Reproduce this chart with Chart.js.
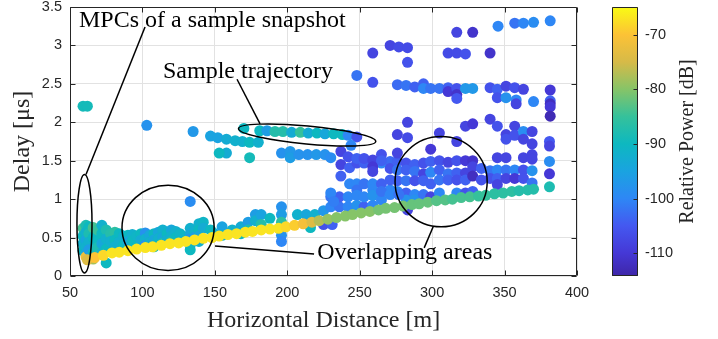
<!DOCTYPE html>
<html><head><meta charset="utf-8">
<script src="https://cdn.jsdelivr.net/npm/chart.js@4/dist/chart.umd.min.js"></script>
<style>
html,body{margin:0;padding:0;background:#fff;}
#wrap{position:relative;width:718px;height:339px;overflow:hidden;}
#main{position:absolute;left:0;top:0;}
#cbar{position:absolute;left:600px;top:0;}
</style></head><body>
<div id="wrap"><canvas id="main" width="718" height="339"></canvas><canvas id="cbar" width="118" height="339"></canvas></div>
<script>
// ---------- tick labels ----------
const xTicks = [50,100,150,200,250,300,350,400];
const yTicks = [0,0.5,1,1.5,2,2.5,3,3.5];
const cbTicks = [-110,-100,-90,-80,-70];
const cbMin = -114.2, cbMax = -64.9;

// ---------- data: distance [m], delay [us], relative power [dB] ----------
const losX = [62,67,73,79,84,90,96,102,107,113,119,125,130,136,142,148,153,159,165,171,176,182,188,194,199,205,211,217,222,228,234,240,245,251,257,263,268,274,280,286,291,297,303,309,314,320,326,332,337,343,349,355,360,366,370,381];
const losY = [0.21,0.24,0.27,0.30,0.31,0.33,0.35,0.37,0.38,0.40,0.42,0.43,0.45,0.47,0.49,0.50,0.52,0.54,0.55,0.57,0.58,0.60,0.61,0.62,0.64,0.66,0.68,0.70,0.72,0.74,0.76,0.78,0.80,0.82,0.84,0.86,0.88,0.89,0.91,0.93,0.94,0.96,0.98,0.99,1.00,1.02,1.03,1.04,1.05,1.07,1.08,1.10,1.11,1.12,1.13,1.16];
const losP = [-74,-70,-68,-67,-67,-67,-67,-67,-67,-67,-67,-67,-67,-67,-67,-67,-67,-67,-67,-67,-67,-67,-67,-67,-68,-69,-71,-74,-77,-79,-80,-80,-80,-80,-80,-81,-81,-81,-81,-82,-82,-82,-83,-83,-84,-84,-84,-85,-85,-86,-86,-86,-87,-87,-87,-88];

const nearX = [59,59,59,59,61,61,61,61,61,61,63,63,63,63,66,66,66,66,69,69,69,72,72,72,72,75,75,75,75,78,78,81,81,81,84,84,87,87,90,90,93,93,96,96,99,99,102,102,102,105,105,108,108,108,111,111,111,114,114,114,117,117,120,120,120,123,123,126,133,133,133,133,133,136,136,139,139,139,139,142,142,147,59,62];
const nearY = [0.62,0.52,0.42,0.33,0.66,0.57,0.47,0.38,0.29,0.25,0.64,0.55,0.44,0.34,0.63,0.50,0.30,0.22,0.60,0.45,0.37,0.66,0.55,0.42,0.30,0.60,0.48,0.35,0.17,0.55,0.45,0.57,0.47,0.38,0.55,0.44,0.52,0.40,0.53,0.45,0.54,0.46,0.52,0.38,0.55,0.47,0.56,0.48,0.40,0.53,0.44,0.55,0.47,0.38,0.57,0.49,0.41,0.60,0.50,0.43,0.55,0.47,0.60,0.52,0.45,0.58,0.50,0.55,0.62,0.55,0.48,0.40,0.34,0.58,0.50,0.68,0.60,0.52,0.45,0.70,0.62,0.60,2.21,2.21];
const nearP = [-84,-90,-92,-90,-88,-92,-94,-92,-94,-72,-90,-88,-92,-96,-84,-90,-90,-78,-85,-90,-88,-92,-90,-94,-92,-88,-92,-90,-90,-87,-92,-86,-90,-92,-90,-92,-92,-90,-90,-94,-92,-90,-91,-90,-90,-93,-98,-92,-98,-94,-92,-90,-94,-86,-94,-92,-90,-92,-94,-88,-90,-92,-94,-92,-87,-92,-90,-91,-92,-94,-98,-94,-90,-92,-96,-92,-90,-94,-92,-91,-93,-90,-89,-89];

const midX = [133,149,155,155,162,168,168,173,173,178,178,182,182,188,196,196,196,196,196,196,207,213,216,219,225,225,231,230,230,236,236,242,242,248,248,253,253,259,259,265,265,271,277,283,230,232];
const midY = [0.97,0.56,0.64,0.53,0.60,0.64,0.55,0.70,0.60,0.80,0.72,0.80,0.67,0.75,0.90,0.80,0.70,0.60,0.53,0.45,0.80,0.80,0.63,0.80,0.85,0.67,0.67,0.90,1.03,0.90,1.03,0.90,1.03,0.92,1.05,0.90,1.03,0.92,1.05,0.99,1.10,1.06,1.06,0.86,1.08,0.97];
const midP = [-99,-94,-95,-92,-92,-93,-90,-96,-88,-96,-92,-95,-87,-90,-98,-96,-86,-96,-98,-100,-92,-94,-90,-92,-97,-106,-104,-100,-102,-102,-104,-100,-100,-98,-100,-104,-100,-100,-98,-100,-102,-100,-102,-108,-100,-101];

const upX = [103,135,147,152,158,158,153,164,169,174,174,180,196,202,202,208,214,220,226,230,237,242,248,253,259,265,259,259,244];
const upY = [1.96,1.88,1.82,1.80,1.78,1.60,1.60,1.76,1.75,1.74,1.54,1.74,1.60,1.62,1.54,1.58,1.58,1.58,1.58,1.54,1.62,1.55,1.53,1.53,1.51,1.50,1.42,1.36,1.70];
const upP = [-98,-97,-95,-95,-93,-93,-90,-92,-92,-90,-89,-92,-98,-97,-96,-98,-98,-97,-98,-99,-108,-106,-104,-106,-108,-104,-110,-108,-100];

const trajX = [170,181,186,191.5,197,203,209,214.5,220.5,226,232,238,242,248];
const trajY = [1.92,1.89,1.89,1.88,1.88,1.87,1.87,1.86,1.86,1.85,1.85,1.84,1.83,1.81];
const trajP = [-90,-90,-96,-87,-87,-93,-85,-93,-90,-94,-90,-90,-100,-106];

const bandX = [237,237,243,243,248,248,248,253,253,259,259,265,265,265,271,271,271,271,276,276,276,276,276,282,282,282,282,282,288,288,288,288,288,294,294,294,294,299,299,299,299,299,305,305,305,305,305,311,311,311,317,317,317,317,317,323,323,323,323,323,328,328,328,328,328,334,334,340,340,340,345,345,345,345,345,351,351,351,351,351,357,357,357,357,363,363,363,363,363,369,369,369,369,369,369,381,381,381,381,276,283,283];
const bandY = [1.45,1.30,1.41,1.20,1.20,1.12,1.47,1.20,1.47,1.20,1.12,1.20,1.47,1.58,1.49,1.40,1.12,1.25,1.49,1.38,1.24,1.10,1.60,1.47,1.38,1.24,1.08,0.99,1.45,1.36,1.24,1.06,0.99,1.47,1.33,1.24,1.06,1.49,1.35,1.20,1.03,1.65,1.50,1.38,1.25,1.08,1.86,1.48,1.33,1.25,1.50,1.34,1.25,1.08,1.75,1.50,1.34,1.25,1.08,1.95,1.50,1.42,1.30,1.10,1.98,1.40,1.25,1.37,1.27,2.04,1.38,1.27,1.19,1.54,1.95,1.38,1.27,1.54,1.84,1.78,1.38,1.27,1.95,1.83,1.38,1.27,1.54,1.88,1.78,1.37,1.21,1.58,1.52,1.72,1.88,1.49,1.33,1.75,1.69,1.84,1.80,2.00];
const bandP = [-108,-104,-104,-100,-100,-102,-106,-102,-104,-100,-100,-104,-100,-106,-103,-106,-100,-104,-104,-102,-104,-100,-108,-106,-104,-102,-104,-98,-104,-102,-106,-100,-98,-106,-108,-104,-102,-104,-100,-104,-108,-110,-106,-104,-102,-100,-108,-108,-102,-104,-106,-104,-106,-100,-108,-110,-108,-104,-106,-108,-111,-108,-112,-104,-110,-104,-106,-102,-106,-108,-100,-104,-108,-108,-106,-102,-108,-108,-108,-106,-100,-110,-108,-106,-106,-106,-108,-99,-108,-98,-102,-108,-108,-108,-108,-99,-110,-105,-108,-108,-107,-108];

const highX = [248,259,259,271,277,283,283,276,282,288,294,294,299,305,311,311,317,317,323,328,317,317,328,345.5,357,363,370,381.5,311,317,323,340,340,345,351,357,363,345,351,358,358,370,381.5,381.5,381.5,381.5,381.5];
const highY = [2.61,2.90,2.52,3.00,2.98,2.97,2.78,2.49,2.48,2.46,2.50,2.44,2.44,2.44,2.45,2.40,2.44,2.36,2.44,2.44,2.31,3.17,3.17,3.25,3.29,3.29,3.30,3.32,2.90,2.90,2.89,2.90,2.45,2.43,2.47,2.45,2.43,2.32,2.32,2.29,2.24,2.27,2.42,2.28,2.24,2.20,2.08];
const highP = [-102,-108,-106,-108,-107,-107,-106,-103,-102,-104,-104,-100,-102,-102,-104,-110,-106,-111,-97,-97,-105,-108,-111,-100,-102,-100,-99,-100,-107,-107,-106,-111,-106,-104,-108,-106,-108,-106,-98,-100,-108,-100,-110,-104,-112,-110,-113];

// ---------- colormap (parula-like) ----------
const cmap = [[-114.2,'#3E26A8'],[-110,'#4538D6'],[-105,'#4458F0'],[-100,'#2E87F5'],[-95,'#1AA3E0'],[-90,'#0DB8C0'],[-85,'#35C19B'],[-80,'#86C468'],[-75,'#D6BA48'],[-70,'#FCC236'],[-64.9,'#F9FB14']];
function hex2rgb(h){return [parseInt(h.substr(1,2),16),parseInt(h.substr(3,2),16),parseInt(h.substr(5,2),16)];}
function colorOf(v){
  if (v <= cmap[0][0]) return cmap[0][1];
  for (let i=1;i<cmap.length;i++){
    if (v <= cmap[i][0]){
      const t=(v-cmap[i-1][0])/(cmap[i][0]-cmap[i-1][0]);
      const a=hex2rgb(cmap[i-1][1]), b=hex2rgb(cmap[i][1]);
      const c=a.map((q,k)=>Math.round(q+(b[k]-q)*t));
      return 'rgb('+c.join(',')+')';
    }
  }
  return cmap[cmap.length-1][1];
}
function group(xs,ys,ps){
  return {data: xs.map((x,i)=>({x:x,y:ys[i]})), backgroundColor: ps.map(colorOf), pointRadius:5.5, pointBorderWidth:0, borderWidth:0, pointHoverRadius:5.5};
}

// ---------- annotations (data coordinates) ----------
const notes = {
  ellipses: [
    {cx:60.0, cy:0.68, rx:5.2, ry:0.64, rot:0},
    {cx:213.7, cy:1.834, rx:47.6, ry:0.117, rot:5.4},
    {cx:117.7, cy:0.627, rx:31.8, ry:0.555, rot:0},
    {cx:306.2, cy:1.227, rx:31.8, ry:0.587, rot:0}
  ],
  lines: [[101.8,3.24,61.05,1.32],[165.3,2.56,181.2,1.98],[150.1,0.39,218.5,0.287],[300.7,0.64,294.5,0.366]],
  texts: [
    {t:'MPCs of a sample snapshot', x:56.2, y:3.316},
    {t:'Sample trajectory', x:114.2, y:2.663},
    {t:'Overlapping areas', x:220.6, y:0.30}
  ]
};

const INK = '#262626';
const annotPlugin = {
  id:'annot',
  afterDatasetsDraw(chart){
    const {ctx, chartArea:a, scales:{x,y}} = chart;
    ctx.save();
    ctx.strokeStyle = INK; ctx.lineWidth = 1;
    const L=Math.round(a.left)+0.5, R=Math.round(a.right)-0.5, T=Math.round(a.top)+0.5, B=Math.round(a.bottom)-0.5;
    ctx.beginPath(); ctx.rect(L,T,R-L,B-T); ctx.stroke();
    ctx.beginPath();
    xTicks.forEach(v=>{const p=Math.round(x.getPixelForValue(v))+0.5; ctx.moveTo(p,B); ctx.lineTo(p,B-5); ctx.moveTo(p,T); ctx.lineTo(p,T+5);});
    yTicks.forEach(v=>{const p=Math.round(y.getPixelForValue(v))+0.5; ctx.moveTo(L,p); ctx.lineTo(L+5,p); ctx.moveTo(R,p); ctx.lineTo(R-5,p);});
    ctx.stroke();
    ctx.strokeStyle = '#000'; ctx.lineWidth = 1.5;
    notes.ellipses.forEach(e=>{
      const cx=x.getPixelForValue(e.cx), cy=y.getPixelForValue(e.cy);
      const rx=Math.abs(x.getPixelForValue(e.cx+e.rx)-cx), ry=Math.abs(y.getPixelForValue(e.cy+e.ry)-cy);
      ctx.beginPath(); ctx.ellipse(cx,cy,rx,ry,e.rot*Math.PI/180,0,2*Math.PI); ctx.stroke();
    });
    notes.lines.forEach(l=>{
      ctx.beginPath(); ctx.moveTo(x.getPixelForValue(l[0]),y.getPixelForValue(l[1])); ctx.lineTo(x.getPixelForValue(l[2]),y.getPixelForValue(l[3])); ctx.stroke();
    });
    ctx.fillStyle = '#000'; ctx.font = '24px "Liberation Serif"'; ctx.textAlign='left'; ctx.textBaseline='middle';
    notes.texts.forEach(t=>{ ctx.fillText(t.t, x.getPixelForValue(t.x), y.getPixelForValue(t.y)); });
    ctx.restore();
  }
};

new Chart(document.getElementById('main'), {
  type:'scatter',
  data:{datasets:[group(losX,losY,losP),group(nearX,nearY,nearP),group(midX,midY,midP),group(upX,upY,upP),group(trajX,trajY,trajP),group(bandX,bandY,bandP),group(highX,highY,highP)]},
  options:{
    responsive:false, animation:false, events:[],
    layout:{padding:{left:0,right:141,top:0,bottom:0}},
    plugins:{legend:{display:false}, tooltip:{enabled:false}},
    scales:{
      x:{type:'linear', min:50, max:400,
         afterBuildTicks:s=>{s.ticks=xTicks.map(v=>({value:v}));},
         afterFit:s=>{s.height=63;},
         grid:{color:'#e2e2e2', drawTicks:false}, border:{display:false},
         ticks:{font:{family:'Liberation Sans', size:14.5}, color:INK, padding:8, maxRotation:0, autoSkip:false},
         title:{display:true, text:'Horizontal Distance [m]', font:{family:'Liberation Serif', size:24}, color:INK, padding:{top:0,bottom:4}}},
      y:{type:'linear', min:0, max:3.5,
         afterBuildTicks:s=>{s.ticks=yTicks.map(v=>({value:v}));},
         afterFit:s=>{s.width=70; s.paddingTop=7; s.paddingBottom=0;},
         grid:{color:'#e2e2e2', drawTicks:false}, border:{display:false},
         ticks:{font:{family:'Liberation Sans', size:14.5}, color:INK, padding:8, autoSkip:false, callback:v=>String(v)},
         title:{display:true, text:'Delay [μs]', font:{family:'Liberation Serif', size:24}, color:INK, padding:{top:8,bottom:0}}}
    }
  },
  plugins:[annotPlugin]
});

// ---------- colorbar ----------
const cbPlugin = {
  id:'cbdeco',
  afterDraw(chart){
    const {ctx, chartArea:a, scales:{y}} = chart;
    ctx.save();
    ctx.strokeStyle = INK; ctx.lineWidth = 1;
    const L=Math.round(a.left)+0.5, R=Math.round(a.right)-0.5, T=Math.round(a.top)+0.5, B=Math.round(a.bottom)-0.5;
    ctx.beginPath(); ctx.rect(L,T,R-L,B-T);
    cbTicks.forEach(v=>{const p=Math.round(y.getPixelForValue(v))+0.5; ctx.moveTo(R,p); ctx.lineTo(R-4,p);});
    ctx.stroke();
    ctx.translate(88, (a.top+a.bottom)/2);
    ctx.rotate(-Math.PI/2);
    ctx.fillStyle = INK; ctx.font = '20px "Liberation Serif"'; ctx.textAlign='center'; ctx.textBaseline='middle';
    ctx.fillText('Relative Power [dB]', 0, 0);
    ctx.restore();
  }
};
new Chart(document.getElementById('cbar'), {
  type:'bar',
  data:{labels:['power'], datasets:[{
    data:[[cbMin,cbMax]],
    backgroundColor:(c)=>{
      const ch=c.chart, a=ch.chartArea; if(!a) return '#888';
      const g=ch.ctx.createLinearGradient(0,a.bottom,0,a.top);
      cmap.forEach(s=>g.addColorStop(Math.min(1,Math.max(0,(s[0]-cbMin)/(cbMax-cbMin))), s[1]));
      return g;
    },
    borderWidth:0, barPercentage:1, categoryPercentage:1
  }]},
  options:{
    responsive:false, animation:false, events:[],
    layout:{padding:{left:12,top:7,bottom:63,right:0}},
    plugins:{legend:{display:false}, tooltip:{enabled:false}},
    scales:{
      x:{display:false},
      y:{position:'right', min:cbMin, max:cbMax,
         afterBuildTicks:s=>{s.ticks=cbTicks.map(v=>({value:v}));},
         afterFit:s=>{s.width=80; s.paddingTop=0; s.paddingBottom=0;},
         grid:{display:false, drawTicks:false}, border:{display:false},
         ticks:{font:{family:'Liberation Sans', size:14.5}, color:INK, padding:7}}
    }
  },
  plugins:[cbPlugin]
});
</script>
</body></html>
